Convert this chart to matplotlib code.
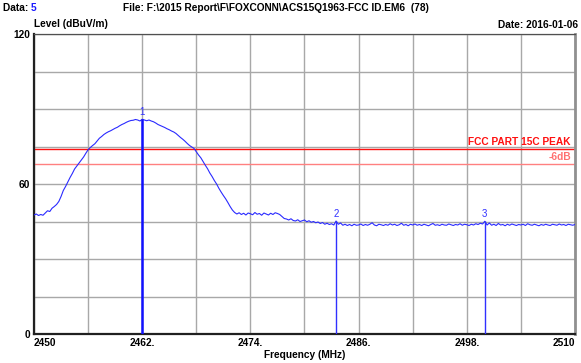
import numpy as np
import matplotlib
matplotlib.use("Agg")
import matplotlib.pyplot as plt

plt.rcParams['font.family'] = ['Liberation Sans', 'DejaVu Sans']

# Spectrum trace, 2450-2510 MHz sampled every 0.25 MHz (dBuV/m)
level = [
    47.6, 48.0, 47.4, 47.8, 47.5, 48.4, 49.3, 49.0, 50.3, 51.0, 51.8, 53.0,   # 2450
    55.0, 57.4, 59.0, 60.8, 62.6, 64.2, 66.0, 67.2, 68.4, 69.6, 70.8, 72.3,   # 2453
    73.7, 74.6, 75.4, 76.1, 77.2, 78.3, 79.0, 79.8, 80.4, 80.9, 81.3, 81.8,   # 2456
    82.3, 82.7, 83.3, 83.8, 84.2, 84.7, 85.1, 85.4, 85.5, 85.8, 85.6, 85.2,   # 2459
    85.9, 85.6, 85.3, 85.6, 85.2, 84.9, 84.4, 83.8, 83.4, 83.0, 82.6, 82.1,   # 2462
    81.7, 81.2, 80.8, 80.2, 79.4, 78.6, 77.9, 77.1, 76.2, 75.4, 74.8, 74.2,   # 2465
    72.9, 71.6, 70.5, 69.0, 67.5, 66.1, 64.4, 63.0, 61.4, 60.0, 58.3, 56.8,   # 2468
    55.4, 54.1, 52.6, 51.0, 49.6, 48.6, 48.0, 48.5, 47.8, 48.3, 47.6, 48.4,   # 2471
    48.1, 47.7, 48.6, 47.9, 48.2, 47.5, 48.4, 48.0, 47.6, 48.3, 47.8, 48.5,   # 2474
    48.2, 47.8, 47.0, 46.2, 46.0, 45.6, 46.1, 45.4, 45.2, 45.7, 45.0, 45.3,   # 2477
    45.6, 44.9, 45.3, 44.7, 45.0, 44.5, 44.8, 44.2, 44.6, 43.9, 44.3, 43.8,   # 2480
    44.1, 43.6, 45.2, 43.9, 44.4, 43.5, 43.9, 43.4, 43.8, 43.3, 43.9, 43.5,   # 2483
    43.6, 44.0, 43.4, 43.8, 43.5, 43.9, 44.5, 43.6, 43.3, 43.9, 43.7, 43.4,   # 2486
    43.8, 43.5, 44.1, 43.6, 43.9, 43.4, 43.7, 44.3, 43.5, 43.8, 43.3, 43.9,   # 2489
    43.6, 44.0, 43.5, 43.8, 43.4, 43.9, 43.6, 43.3, 43.8, 44.2, 43.5, 43.7,   # 2492
    43.4, 43.9, 43.6, 43.5, 44.0, 43.7, 43.4, 43.8, 43.6, 44.1, 43.5, 43.9,   # 2495
    43.7, 43.4, 43.9, 43.6, 44.1, 43.8, 44.3, 44.0, 45.1, 43.6, 44.4, 43.5,   # 2498
    43.9, 43.4, 44.2, 43.6, 43.8, 43.3, 43.9, 43.5, 44.0, 43.7, 43.4, 43.8,   # 2501
    43.6, 43.9, 43.4, 44.1, 43.7, 43.5, 43.9, 43.6, 43.3, 43.8, 43.5, 43.9,   # 2504
    43.6, 43.4, 43.9, 43.7, 43.5, 44.0, 43.6, 43.8, 43.4, 43.9, 43.7, 43.5,   # 2507
    43.8,                                                                     # 2510
]
freq_start, freq_stop = 2450.0, 2510.0
freq = np.linspace(freq_start, freq_stop, len(level))

# Peak markers
marker_ids = ['1', '2', '3']
marker_freq = [2462.0, 2483.5, 2500.0]
marker_level = [85.9, 45.2, 45.1]

# Limit lines
limit_peak = 74.0
limit_margin = 68.0

x_ticks = [2450, 2456, 2462, 2468, 2474, 2480, 2486, 2492, 2498, 2504, 2510]
x_labels = ['2450', '', '2462.', '', '2474.', '', '2486.', '', '2498.', '', '2510']
y_ticks = [0, 15, 30, 45, 60, 75, 90, 105, 120]
y_labels = ['0', '', '', '', '60', '', '', '', '120']

W, H = 581, 363
fig = plt.figure(figsize=(W / 100, H / 100), dpi=100)
fig.patch.set_facecolor('white')
ax = fig.add_axes([34 / W, (H - 334) / H, 541 / W, 300 / H])

fs = 7.3
bold = dict(fontweight='bold', fontsize=fs)

ax.set_xlim(freq_start, freq_stop)
ax.set_ylim(0, 120)
ax.set_xticks(x_ticks)
ax.set_xticklabels(x_labels, **bold)
ax.set_yticks(y_ticks)
ax.set_yticklabels(y_labels, **bold)
xtl = ax.get_xticklabels()
xtl[0].set_horizontalalignment('left')
xtl[-1].set_horizontalalignment('right')
ax.tick_params(length=0, pad=3)
ax.tick_params(axis='y', pad=3)
ax.grid(True, color='#a8a8a8', linewidth=1.0)
ax.set_axisbelow(True)

for side, col, lw in [('left', '#202020', 1.6), ('bottom', '#202020', 1.6),
                      ('top', '#505050', 0.9), ('right', '#909090', 2.0)]:
    ax.spines[side].set_color(col)
    ax.spines[side].set_linewidth(lw)

# Limit lines and labels
ax.axhline(limit_peak, color='#ff1010', linewidth=1.0, zorder=2)
ax.axhline(limit_margin, color='#ff8080', linewidth=1.0, zorder=2)
ax.annotate('FCC PART 15C PEAK', (freq_stop, limit_peak), xytext=(-3, 1.5),
            textcoords='offset points', ha='right', va='bottom',
            color='#ff1010', **bold)
ax.annotate('-6dB', (freq_stop, limit_margin), xytext=(-3, 1.5),
            textcoords='offset points', ha='right', va='bottom',
            color='#ff7070', **bold)

# Trace
ax.plot(freq, level, color='#2a2aff', linewidth=0.8, zorder=3)

# Markers
for i, (mid, mf, ml) in enumerate(zip(marker_ids, marker_freq, marker_level)):
    ax.vlines(mf, 0, ml, color='#1010ff' if i == 0 else '#3030ff',
              linewidth=1.8 if i == 0 else 1.0, zorder=4)
    ax.annotate(mid, (mf, ml), xytext=(0, 1.5), textcoords='offset points',
                ha='center', va='bottom', color='#3030ff', fontsize=7)

ax.set_xlabel('Frequency (MHz)', labelpad=1, **bold)

# Header texts
def fy(py):
    return 1 - py / H

t = fig.text(3 / W, fy(8), 'Data: ', ha='left', va='center', **bold)
fig.canvas.draw()
bb = t.get_window_extent()
fig.text(bb.x1 / W, fy(8), '5', ha='left', va='center', color='#1a1aff', **bold)
fig.text(123 / W, fy(8), 'File: F:\\2015 Report\\F\\FOXCONN\\ACS15Q1963-FCC ID.EM6  (78)',
         ha='left', va='center', **bold)
fig.text(34 / W, fy(24), 'Level (dBuV/m)', ha='left', va='center', **bold)
fig.text(578 / W, fy(25), 'Date: 2016-01-06', ha='right', va='center', **bold)

fig.savefig('out.png', dpi=100, facecolor='white')
